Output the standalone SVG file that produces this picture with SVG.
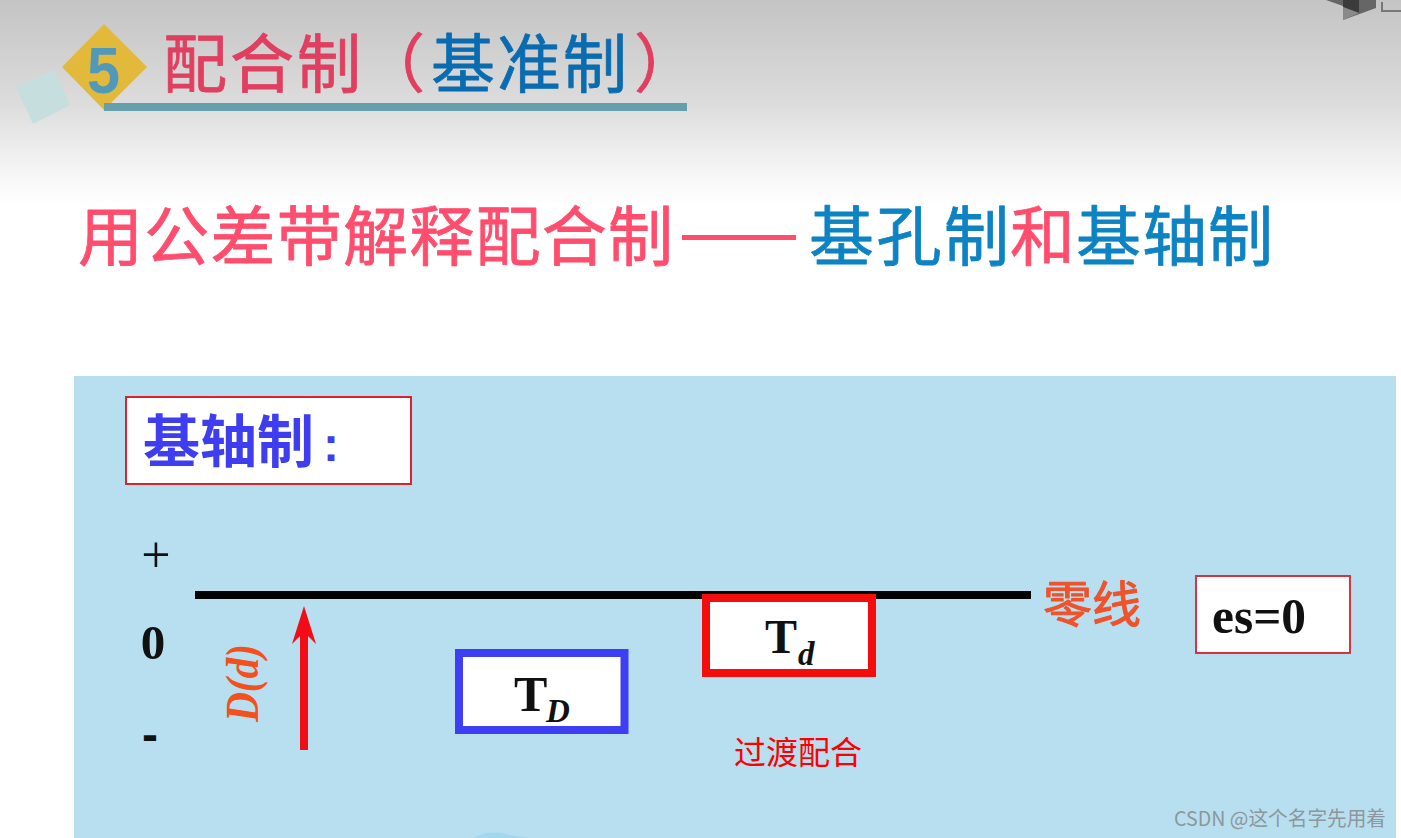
<svg xmlns="http://www.w3.org/2000/svg" width="1401" height="838" viewBox="0 0 1401 838">
<defs>
<linearGradient id="hdr" x1="0" y1="0" x2="0" y2="1">
<stop offset="0" stop-color="#c4c4c4"/><stop offset="0.5" stop-color="#dcdcdc"/><stop offset="0.85" stop-color="#f6f6f6"/><stop offset="1" stop-color="#ffffff"/>
</linearGradient>
</defs>
<style>
text{font-family:"Noto Sans CJK SC","Noto Sans",sans-serif}
.ser{font-family:"Liberation Serif",serif;font-weight:700}
.sans{font-family:"Liberation Sans",sans-serif;font-weight:700}
.heavy{stroke-width:0.8;stroke-linejoin:round}
.red{fill:#ff4d6d;stroke:#ff4d6d}
.tred{fill:#e03f60;stroke:#e03f60}
.blue{fill:#0d83c4;stroke:#0d83c4}
.tblue{fill:#0a6cb0;stroke:#0a6cb0}
.box{fill:#fff}
</style>
<rect width="1401" height="838" fill="#fff"/>
<rect width="1401" height="205" fill="url(#hdr)"/>
<g id="corner-icon">
<polygon points="1326,0 1343,6 1343,20 1376,8 1376,0" fill="#666"/>
<polygon points="1343,0 1359,0 1359,13 1343,7" fill="#3b3b3b"/>
<polygon points="1343,7 1359,13 1343,20" fill="#8a8a8a"/>
<path d="M1382,2V11H1401" fill="none" stroke="#777" stroke-width="2"/>
</g>
<g id="title">
<polygon points="16,87 54,70 70,105 33,124" fill="#c6dede"/>
<polygon points="104,24 147,67 104,110 62,67" fill="#e3b93c"/>
<text x="87" y="93" class="sans" font-size="64" fill="#5199b9" textLength="33" lengthAdjust="spacingAndGlyphs">5</text>
<rect x="104" y="103" width="583" height="8" fill="#669fac"/>
<text x="163" y="87" font-size="64" class="tred heavy" textLength="198">配合制</text>
<text x="361" y="87" font-size="64" class="tred heavy">（</text>
<text x="431" y="87" font-size="64" class="tblue heavy" textLength="196">基准制</text>
<text x="634" y="87" font-size="64" class="tred heavy">）</text>
</g>
<g id="subtitle">
<text x="78" y="260" font-size="65" class="red heavy" textLength="595">用公差带解释配合制</text>
<rect x="682" y="235" width="114" height="5" fill="#ff4d6d"/>
<text x="809" y="260" font-size="65" class="blue heavy" textLength="200">基孔制</text>
<text x="1010" y="260" font-size="65" class="red heavy">和</text>
<text x="1076" y="260" font-size="65" class="blue heavy" textLength="197">基轴制</text>
</g>
<g id="panel">
<rect x="74" y="376" width="1322" height="462" fill="#b7dff0"/>
<path d="M473,838Q490,829 510,835L530,838Z" fill="#a0d9ef"/>
</g>
<g id="label-box">
<rect x="126" y="397" width="285" height="87" class="box" stroke="#d9232e" stroke-width="2"/>
<text x="143" y="462" font-size="57" font-weight="700" fill="#3e3ef0">基轴制</text>
<text x="323" y="461" class="sans" font-size="48" fill="#3e3ef0">:</text>
</g>
<g id="axis-labels" fill="#111">
<text x="156" y="572" font-size="52" text-anchor="middle" style="font-family:'Liberation Serif',serif">+</text>
<text x="153" y="659" class="ser" font-size="49" text-anchor="middle">0</text>
<text x="150" y="751" class="sans" font-size="48" text-anchor="middle">-</text>
</g>
<g id="connectors">
<rect x="195" y="591" width="836" height="8" fill="#000"/>
<rect x="300" y="632" width="8" height="118" fill="#f20d16"/>
<polygon points="304,606 316,644 304,632 292,644" fill="#f20d16"/>
</g>
<g id="dd-label">
<text transform="translate(258,722) rotate(-90)" class="ser" font-size="46" font-style="italic" fill="#f4501e" textLength="78" lengthAdjust="spacingAndGlyphs">D(d)</text>
</g>
<g id="TD">
<rect x="459" y="653" width="165.500" height="77" class="box" stroke="#3e3ef2" stroke-width="8"/>
<text x="514" y="711" class="ser" font-size="50" fill="#111">T</text>
<text x="546" y="722" class="ser" font-size="33" font-style="italic" fill="#111">D</text>
</g>
<g id="Td">
<rect x="706" y="598" width="166" height="75" class="box" stroke="#f30d0d" stroke-width="8"/>
<text x="765" y="653" class="ser" font-size="48" fill="#111">T</text>
<text x="798" y="665" class="ser" font-size="33" font-style="italic" fill="#111">d</text>
</g>
<g id="zero-label">
<text x="1043" y="622" font-size="49" fill="#f0522a" stroke="#f0522a" stroke-width="1" stroke-linejoin="round" textLength="98">零线</text>
</g>
<g id="es-box">
<rect x="1196" y="576" width="154" height="77" class="box" stroke="#d9333f" stroke-width="2"/>
<text x="1212" y="633" class="ser" font-size="51" fill="#111" textLength="94" lengthAdjust="spacingAndGlyphs">es=0</text>
</g>
<text id="transition" x="734" y="764" font-size="32" fill="#f00" textLength="128">过渡配合</text>
<text id="watermark" x="1174" y="826" font-size="20" fill="#8d979d" textLength="212" lengthAdjust="spacingAndGlyphs">CSDN @这个名字先用着</text>
</svg>
